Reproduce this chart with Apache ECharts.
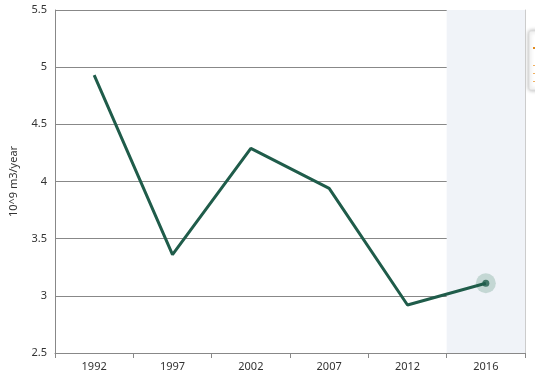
<!DOCTYPE html>
<html><head><meta charset="utf-8">
<script src="https://cdn.jsdelivr.net/npm/echarts@6/dist/echarts.min.js"></script>
<style>html,body{margin:0;padding:0;background:#fff}#c{width:535px;height:385px}</style>
</head><body><div id="c"></div>
<script>
var years = ['1992','1997','2002','2007','2012','2016'];
var values = [4.93, 3.36, 4.29, 3.94, 2.92, 3.11];
var highlight = [null, null, null, null, null, 5.5];
var lastPoint = [null, null, null, null, null, 3.11];
var yTicks = [2.5, 3, 3.5, 4, 4.5, 5, 5.5];

var chart = echarts.init(document.getElementById('c'));
var font = 'Noto Sans';
chart.setOption({
  animation: false,
  grid: {left: 55, right: 10, top: 10, bottom: 32},
  xAxis: {
    type: 'category', data: years, boundaryGap: true,
    axisLine: {lineStyle: {color: '#888', width: 1}},
    axisTick: {show: true, alignWithLabel: false, length: 5, lineStyle: {color: '#888'}},
    axisLabel: {color: '#333', fontSize: 11, fontFamily: font, margin: 8}
  },
  yAxis: [{
    type: 'value', min: 2.5, max: 5.5, interval: 0.5,
    name: '10^9 m3/year', nameLocation: 'middle', nameGap: 36, nameRotate: 90,
    nameTextStyle: {color: '#333', fontSize: 11, fontFamily: font},
    axisLine: {show: true, lineStyle: {color: '#888'}},
    axisTick: {show: false},
    axisLabel: {color: '#333', fontSize: 11, fontFamily: font, margin: 8,
      formatter: function(v){ return String(v); }},
    splitLine: {show: true, lineStyle: {color: '#888', width: 1}}
  }, {
    type: 'value', min: 2.5, max: 5.5, interval: 0.5, position: 'right',
    axisLine: {show: true, lineStyle: {color: '#ccc'}},
    axisTick: {show: false}, axisLabel: {show: false}, splitLine: {show: false}
  }],
  series: [{
    type: 'bar', data: highlight, barWidth: '100%', silent: true,
    itemStyle: {color: '#f0f3f8'}, z: 0
  }, {
    type: 'line', data: values, symbol: 'none',
    lineStyle: {color: '#1f5c4a', width: 3}, z: 3
  }, {
    type: 'scatter', data: lastPoint, symbolSize: 20,
    itemStyle: {color: '#b9cfca'}, z: 2, silent: true
  }, {
    type: 'scatter', data: lastPoint, symbolSize: 7,
    itemStyle: {color: '#1f5c4a'}, z: 4, silent: true
  }],
  graphic: [{
    type: 'rect', shape: {x: 529, y: 31, width: 20, height: 59, r: 2},
    style: {fill: '#fff', stroke: '#ddd', lineWidth: 1, shadowBlur: 4, shadowColor: 'rgba(0,0,0,0.3)'}
  }, {
    type: 'rect', shape: {x: 533, y: 47, width: 2, height: 2},
    style: {fill: '#e08a1e'}
  }, {
    type: 'rect', shape: {x: 533, y: 65, width: 2, height: 1},
    style: {fill: '#f0b060'}
  }, {
    type: 'rect', shape: {x: 533, y: 73, width: 2, height: 1},
    style: {fill: '#f0b060'}
  }, {
    type: 'rect', shape: {x: 533, y: 81, width: 2, height: 1},
    style: {fill: '#f0b060'}
  }]
});
</script></body></html>
